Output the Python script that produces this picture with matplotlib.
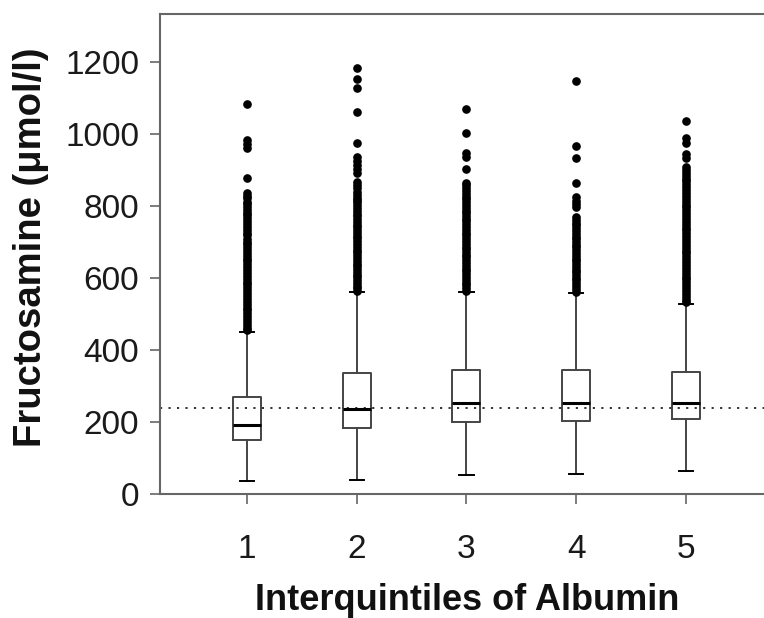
import matplotlib
matplotlib.use("Agg")
import matplotlib.pyplot as plt

plt.rcParams['font.family'] = ['Liberation Sans', 'DejaVu Sans']

categories = ["1", "2", "3", "4", "5"]
medians = [192, 236, 253, 253, 253]
q1s = [150, 183, 200, 203, 208]
q3s = [269, 336, 344, 344, 339]
whis_low = [36, 39, 53, 56, 64]
whis_high = [450, 561, 561, 558, 528]
reference_line = 240

fliers_1 = [1083, 983, 972, 961, 878,
            836, 829, 821, 812, 806, 797, 790, 781, 774, 766, 757, 750, 741, 733,
            726, 718, 709, 701, 694, 686, 677, 670, 662, 653, 646, 638, 630, 621,
            614, 606, 597, 590, 582, 574, 566, 558, 549, 542, 534, 526, 517, 510,
            502, 494, 486, 478, 470, 462, 455]
fliers_2 = [1183, 1153, 1128, 1061, 975, 936, 925, 914, 903, 892,
            867, 858, 849, 840, 830, 822,
            817, 810, 802, 795, 787, 779, 771, 764, 756, 748, 741, 733, 725, 717,
            710, 702, 694, 687, 679, 671, 663, 656, 648, 640, 633, 625, 617, 609,
            602, 594, 586, 579, 571, 565]
fliers_3 = [1069, 1003, 947, 936, 903,
            864, 857, 849, 841, 834, 826, 818, 811, 803, 795, 787, 780, 772, 764,
            757, 749, 741, 734, 726, 718, 710, 703, 695, 687, 680, 672, 664, 657,
            649, 641, 633, 626, 618, 610, 603, 595, 587, 580, 572, 565]
fliers_4 = [1147, 967, 933, 864, 825, 815, 805, 797,
            769, 761, 754, 746, 738, 731, 723, 715, 708, 700, 692, 685, 677, 669,
            662, 654, 646, 639, 631, 623, 616, 608, 600, 593, 585, 577, 570, 562]
fliers_5 = [1036, 989, 975, 944, 933,
            908, 900, 892, 884, 876, 868, 860, 852, 844, 836, 828, 820, 812, 804,
            796, 788, 780, 772, 764, 756, 748, 740, 732, 724, 716, 708, 700, 692,
            684, 676, 668, 660, 652, 644, 636, 628, 620, 612, 604, 596, 588, 580,
            572, 564, 556, 548, 540, 532]
all_fliers = [fliers_1, fliers_2, fliers_3, fliers_4, fliers_5]

stats = []
for i in range(len(categories)):
    stats.append(dict(med=medians[i], q1=q1s[i], q3=q3s[i],
                      whislo=whis_low[i], whishi=whis_high[i],
                      fliers=all_fliers[i], label=categories[i]))

fig = plt.figure(figsize=(7.64, 6.18), dpi=100)
ax = fig.add_axes([0.2094, 0.2006, 0.7906, 0.7767])

edge = '#444444'
ax.axhline(reference_line, color='#222222', linestyle=(0, (1.2, 3.5)), linewidth=1.3, zorder=1)
positions = list(range(1, len(categories) + 1))
ax.bxp(stats, positions=positions, widths=0.255, showfliers=True,
       boxprops=dict(color=edge, linewidth=1.4),
       medianprops=dict(color='black', linewidth=2.2),
       whiskerprops=dict(color=edge, linewidth=1.4),
       capprops=dict(color='black', linewidth=1.4),
       capwidths=0.13,
       flierprops=dict(marker='o', markerfacecolor='black', markeredgecolor='black',
                       markersize=5.2, linestyle='none'),
       patch_artist=False, zorder=3)

ax.set_xlim(0.209, 5.709)
ax.set_ylim(0, 1333)
ax.set_yticks([0, 200, 400, 600, 800, 1000, 1200])
ax.set_xticks(positions)
ax.set_xticklabels(categories)

for s in ['left', 'bottom', 'top']:
    ax.spines[s].set_color('#666666')
    ax.spines[s].set_linewidth(1.5)
ax.spines['right'].set_visible(False)

ax.tick_params(axis='both', direction='out', length=7, width=1.2, color='#666666',
               labelsize=24, labelcolor='#1a1a1a')
ax.tick_params(axis='y', pad=8)
ax.tick_params(axis='x', pad=22)

fig.text(0.041, 0.6, 'Fructosamine (μmol/l)', rotation=90, fontsize=27.5,
         fontweight='bold', ha='center', va='center', color='#111111')
fig.text(0.611, 0.029, 'Interquintiles of Albumin', fontsize=26,
         fontweight='bold', ha='center', va='center', color='#111111')

fig.savefig('out.png', dpi=100)
